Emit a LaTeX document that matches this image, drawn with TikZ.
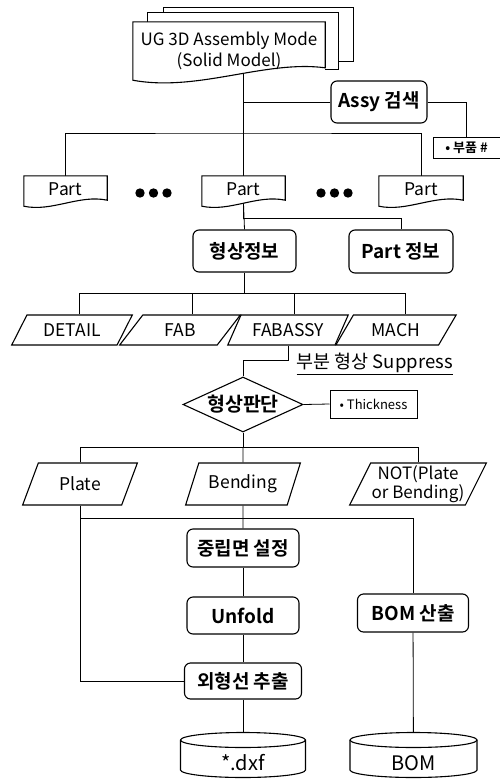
\documentclass[tikz,border=0pt]{standalone}
\usepackage{fontspec}
\setmainfont{Noto Sans CJK KR}[BoldFont={Noto Sans CJK KR Bold}]
\usetikzlibrary{positioning, shapes.geometric, calc, backgrounds}

\begin{document}
\begin{tikzpicture}[
  x=1pt, y=-1pt,
  every node/.style={font=\fontsize{17.5}{20}\selectfont},
  conn/.style={line width=0.8pt},
  pageline/.style={draw, line width=1.1pt, fill=white},
  docbox/.style={minimum width=#1, minimum height=27pt, inner sep=0pt},
  procbox/.style={draw, line width=1.1pt, rounded corners=6pt, fill=white, inner sep=0pt, font=\fontsize{19}{21}\selectfont\bfseries},
  datashape/.style={draw, line width=1.1pt, fill=white, trapezium, trapezium left angle=53, trapezium right angle=127, trapezium stretches, minimum height=30pt, inner sep=0pt},
  datashapetall/.style={datashape, trapezium left angle=61, trapezium right angle=119, minimum height=42pt},
  decision/.style={draw, diamond, aspect=2.2, line width=1.1pt, fill=white, minimum width=120pt, minimum height=55pt, inner sep=0pt, font=\fontsize{19.5}{21}\selectfont\bfseries},
  notebox/.style={draw, line width=1pt, fill=white, inner sep=0pt, font=\fontsize{13}{15}\selectfont},
  storetext/.style={inner sep=0pt, font=\fontsize{20}{22}\selectfont},
]
\useasboundingbox (0,0) rectangle (499,780);

% Assembly model and search
\node[docbox=192pt, minimum height=58pt, align=center, font=\fontsize{17}{21}\selectfont] (model) at (229,51) {UG 3D Assembly Mode\\(Solid Model)};
\node[procbox, minimum width=96pt, minimum height=42pt] (assy) at (379,102) {Assy 검색};
\node[notebox, minimum width=67pt, minimum height=21pt, font=\fontsize{13}{15}\selectfont\bfseries] (partno) at (466.5,147.5) {• 부품 \#};
\coordinate (split) at (243.5,133);

% Parts
\node[docbox=83pt] (part1) at (65.5,189.5) {Part};
\node[docbox=83pt] (part2) at (243.5,189.5) {Part};
\node[docbox=84pt] (part3) at (421,189.5) {Part};
\node[inner sep=0pt] (dotsl) at (153.5,193) {};
\node[inner sep=0pt] (dotsr) at (334.5,193) {};
\foreach \d in {-13.5,0,13.5} {
  \fill ($(dotsl)+(\d,0)$) circle (4.7pt);
  \fill ($(dotsr)+(\d,0)$) circle (4.7pt);
}

\node[procbox, minimum width=103pt, minimum height=42pt] (shapeinfo) at (244.5,251) {형상정보};
\node[procbox, minimum width=104pt, minimum height=43pt] (partinfo) at (401,251.5) {Part 정보};

% Shape types
\node[datashape, minimum width=121pt] (detail) at (72,330) {DETAIL};
\node[datashape, minimum width=121pt] (fab) at (180,330) {FAB};
\node[datashape, minimum width=121pt] (fabassy) at (288,330) {FABASSY};
\node[datashape, minimum width=121pt] (mach) at (396,330) {MACH};
\node[anchor=west, font=\fontsize{18.5}{20}\selectfont] (suppress) at ($(fabassy.south)+(5,18)$) {\underline{부분 형상 Suppress}};

\node[decision] (judge) at (243,404.5) {형상판단};
\node[notebox, minimum width=87pt, minimum height=28pt] (thick) at (373.5,404) {• Thickness};

\node[datashapetall, minimum width=115pt] (plate) at (80,484) {Plate};
\node[datashapetall, minimum width=115pt] (bending) at (243,484) {Bending};
\node[datashapetall, minimum width=137pt, align=center, font=\fontsize{17}{19}\selectfont] (notpb) at (418,484) {NOT(Plate\\or Bending)};

% Processing
\node[procbox, minimum width=112pt, minimum height=38pt] (neutral) at (243,548) {중립면 설정};
\node[procbox, minimum width=112pt, minimum height=37pt] (unfold) at (243,615.5) {Unfold};
\node[procbox, minimum width=117pt, minimum height=36pt] (contour) at (243,681) {외형선 추출};
\node[procbox, minimum width=111pt, minimum height=38pt] (bomcalc) at (413,613) {BOM 산출};
\node[storetext] (dxf) at (243,763) {*.dxf};
\node[storetext] (bomdb) at (413.5,763) {BOM};

\coordinate (fabtop) at ($(fab.top left corner)!.5!(fab.top right corner)$);
\coordinate (fabassytop) at ($(fabassy.top left corner)!.5!(fabassy.top right corner)$);

\begin{scope}[on background layer]
% Connectors
\draw[conn] (part1.north) |- (split) -| (part3.north);
\draw[conn] (part2.north) -- (part2.north |- model.center);
\draw[conn] (assy.west) -- (assy.west -| part2.north);
\draw[conn] (assy.east) -| (partno.north);
\draw[conn] (part2.south) -- (shapeinfo.north);
\draw[conn] (part2.south) -- ++(0,15) -| (partinfo.north);
\draw[conn] (shapeinfo.south) -- ++(0,21) coordinate (fork);
\draw[conn] ($(detail.top left corner)!.5!(detail.top right corner)$) |- (fork) -| ($(mach.top left corner)!.5!(mach.top right corner)$);
\draw[conn] (fabtop) -- (fabtop |- fork);
\draw[conn] (fabassytop) -- (fabassytop |- fork);
\draw[conn] (fabassy.south) -- ++(0,15) -| (judge.north);
\draw[conn] (judge.east) -- (thick.west);
\draw[conn] (judge.south) -- ++(0,15) coordinate (fork2);
\draw[conn] (plate.north) |- (fork2) -| (notpb.north);
\draw[conn] (bending.north) -- (fork2);
\draw[conn] (plate.south) |- (contour.west);
\draw[conn] (plate.south) -- ++(0,13) -| (bomcalc.north);
\draw[conn] (bending.south) -- (neutral.north);
\draw[conn] (neutral) -- (unfold);
\draw[conn] (unfold) -- (contour);
\draw[conn] (contour) -- (dxf);
\draw[conn] (bomcalc) -- (bomdb);

% Document outlines
\draw[pageline] ($(model.north west)+(31,30)$) |- ($(model.north east)+(28,-14)$) -- ++(0,54) -- ++(-15,0);
\draw[pageline] ($(model.north west)+(15,45)$) |- ($(model.north east)+(13,-9)$) -- ++(0,57) -- ++(-13,0);
\draw[pageline] (model.south west) -- (model.north west) -- (model.north east) -- ++(0,46)
  .. controls +(-60,-8) and +(65,12) .. (model.south west) -- cycle;
\foreach \p in {part1,part2,part3}
  \draw[pageline] (\p.south west) -- (\p.north west) -- (\p.north east) -- ($(\p.south east)+(0,-3)$)
    .. controls +(-28,-6) and +(28,6) .. ($(\p.south west)+(0,3)$) -- cycle;

% Storage cylinders
\foreach \s/\r in {dxf/62.5, bomdb/63.5} {
  \draw[pageline] ($(\s)+(-\r,-23)$) -- ++(0,30)
    arc[start angle=180, end angle=360, x radius=\r pt, y radius=7.5pt] -- ++(0,-30)
    arc[start angle=0, end angle=180, x radius=\r pt, y radius=7.5pt] -- cycle;
  \draw[line width=1.1pt] ($(\s)+(-\r,-23)$) arc[start angle=180, end angle=360, x radius=\r pt, y radius=7.5pt];
}
\end{scope}
\end{tikzpicture}
\end{document}
